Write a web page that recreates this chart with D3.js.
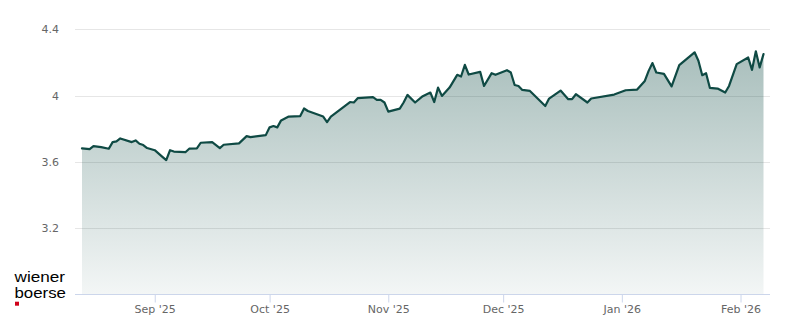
<!DOCTYPE html>
<html><head><meta charset="utf-8">
<script src="https://cdn.jsdelivr.net/npm/d3@7"></script>
<style>html,body{margin:0;padding:0;background:#fff}svg{display:block}</style>
</head><body><svg id="c" width="800" height="324"></svg>
<script>
const dates = ["2025-08-13","2025-08-15","2025-08-16","2025-08-18","2025-08-20","2025-08-21","2025-08-22","2025-08-23","2025-08-26","2025-08-27","2025-08-28","2025-08-29","2025-08-30",
"2025-09-01","2025-09-03","2025-09-04","2025-09-05","2025-09-06","2025-09-09","2025-09-10","2025-09-12","2025-09-13","2025-09-16","2025-09-18","2025-09-19","2025-09-23","2025-09-25","2025-09-26","2025-09-30",
"2025-10-01","2025-10-02","2025-10-03","2025-10-04","2025-10-06","2025-10-09","2025-10-10","2025-10-11","2025-10-15","2025-10-16","2025-10-17","2025-10-22","2025-10-23","2025-10-24","2025-10-28","2025-10-29","2025-10-30","2025-10-31",
"2025-11-01","2025-11-04","2025-11-05","2025-11-06","2025-11-08","2025-11-10","2025-11-12","2025-11-13","2025-11-14","2025-11-15","2025-11-17","2025-11-19","2025-11-20","2025-11-21","2025-11-22","2025-11-25","2025-11-26","2025-11-28","2025-11-29",
"2025-12-02","2025-12-03","2025-12-04","2025-12-05","2025-12-06","2025-12-08","2025-12-10","2025-12-12","2025-12-13","2025-12-16","2025-12-18","2025-12-19","2025-12-20","2025-12-23","2025-12-24","2025-12-30",
"2026-01-02","2026-01-05","2026-01-07","2026-01-08","2026-01-09","2026-01-10","2026-01-12","2026-01-14","2026-01-16","2026-01-20","2026-01-21","2026-01-22","2026-01-23","2026-01-24","2026-01-26","2026-01-28","2026-01-29","2026-01-31",
"2026-02-03","2026-02-04","2026-02-05","2026-02-06","2026-02-07"];
const values = [3.681,3.676,3.695,3.689,3.679,3.719,3.723,3.741,3.719,3.729,3.709,3.701,3.683,
3.670,3.630,3.610,3.670,3.662,3.658,3.679,3.681,3.715,3.719,3.683,3.703,3.711,3.755,3.749,3.761,
3.808,3.816,3.808,3.850,3.873,3.876,3.922,3.907,3.873,3.840,3.873,3.961,3.958,3.984,3.990,3.974,3.974,3.958,
3.903,3.921,3.958,4.004,3.958,3.996,4.018,3.961,4.048,3.998,4.048,4.125,4.115,4.185,4.127,4.143,4.058,4.135,4.125,
4.153,4.139,4.064,4.058,4.034,4.028,3.982,3.937,3.982,4.030,3.978,3.978,4.008,3.958,3.982,4.006,
4.032,4.036,4.088,4.149,4.196,4.139,4.131,4.055,4.184,4.261,4.210,4.123,4.135,4.046,4.042,4.018,4.058,4.190,
4.230,4.155,4.267,4.170,4.250];
const yTicks = [3.2, 3.6, 4, 4.4];
const xTicks = ["2025-09-01","2025-10-01","2025-11-01","2025-12-01","2026-01-01","2026-02-01"];

const parse = d3.utcParse("%Y-%m-%d");
const data = dates.map((d,i)=>({date: parse(d), value: values[i]}));

const svg = d3.select("#c");
const x = d3.scaleUtc().domain(d3.extent(data, d=>d.date)).range([82, 763.5]);
const y = d3.scaleLinear().domain([2.8, 4.4]).range([294.3, 29.3]);
const plotL = 75, plotR = 770;

// gridlines
svg.append("g").selectAll("line").data(yTicks).join("line")
  .attr("x1", plotL).attr("x2", plotR)
  .attr("y1", d=>Math.round(y(d))+0.5).attr("y2", d=>Math.round(y(d))+0.5)
  .attr("stroke", "#e6e6e6").attr("stroke-width", 1);

// y labels
svg.append("g").selectAll("text").data(yTicks).join("text")
  .attr("x", 59).attr("y", d=>y(d)+4)
  .attr("text-anchor","end")
  .attr("font-family","DejaVu Sans").attr("font-size", 11).attr("fill","#666")
  .text(d=>d3.format("~g")(d));

// gradient
const defs = svg.append("defs");
const grad = defs.append("linearGradient").attr("id","g1")
  .attr("gradientUnits","userSpaceOnUse").attr("x1",0).attr("x2",0)
  .attr("y1", y(d3.max(values))).attr("y2", y(2.8));
grad.append("stop").attr("offset","0").attr("stop-color","#0f4c45").attr("stop-opacity",0.36);
grad.append("stop").attr("offset","1").attr("stop-color","#0f4c45").attr("stop-opacity",0.05);

svg.append("path").datum(data)
  .attr("d", d3.area().x(d=>x(d.date)).y0(y(2.8)).y1(d=>y(d.value)))
  .attr("fill","url(#g1)");

svg.append("path").datum(data)
  .attr("d", d3.line().x(d=>x(d.date)).y(d=>y(d.value)))
  .attr("fill","none").attr("stroke","#0f4a44").attr("stroke-width",2.2)
  .attr("stroke-linejoin","round").attr("stroke-linecap","round");

// x axis
const xAxis = d3.axisBottom(x).tickValues(xTicks.map(parse))
  .tickFormat(d3.utcFormat("%b '%y")).tickSize(8).tickPadding(3);
const gx = svg.append("g").attr("transform","translate(0,294.5)").call(xAxis);
gx.select(".domain").remove();
gx.append("line").attr("x1",plotL).attr("x2",plotR).attr("y1",0).attr("y2",0)
  .attr("stroke","#ccd6eb").attr("stroke-width",1);
gx.selectAll(".tick line").attr("stroke","#ccd6eb");
gx.selectAll(".tick text").attr("font-family","DejaVu Sans").attr("font-size",11).attr("fill","#666");

// logo
const logo = svg.append("g").attr("font-family","Liberation Sans").attr("font-size",14.5).attr("fill","#000");
logo.append("text").attr("x",14.5).attr("y",281.5).attr("textLength",50.5).attr("lengthAdjust","spacingAndGlyphs").text("wiener");
logo.append("text").attr("x",14.5).attr("y",297.5).attr("textLength",51.5).attr("lengthAdjust","spacingAndGlyphs").text("boerse");
svg.append("rect").attr("x",15).attr("y",301.7).attr("width",4).attr("height",4).attr("fill","#d0021b");
</script>
</body></html>
